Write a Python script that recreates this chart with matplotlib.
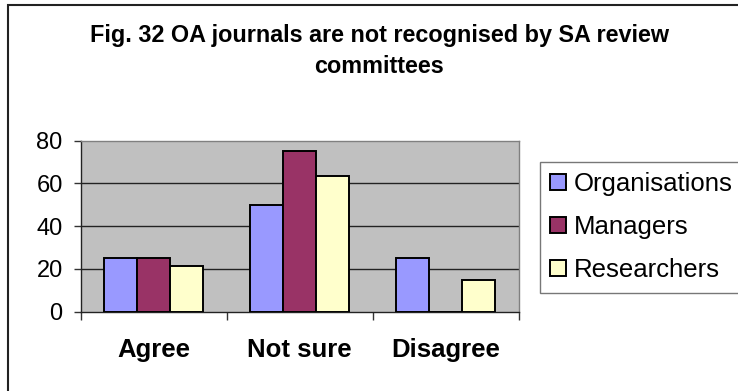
import matplotlib.pyplot as plt
import numpy as np
from matplotlib.patches import Rectangle

plt.rcParams['font.family'] = ['Liberation Sans', 'DejaVu Sans']

categories = ["Agree", "Not sure", "Disagree"]
series_names = ["Organisations", "Managers", "Researchers"]
organisations = [25, 50, 25]
managers = [25, 75, 0]
researchers = [21.3, 63.6, 14.8]
colors = ["#9999FF", "#993366", "#FFFFCC"]
yticks = [0, 20, 40, 60, 80]

fig = plt.figure(figsize=(7.38, 3.91), dpi=100)
ax = fig.add_axes([0.1094, 0.2028, 0.5935, 0.4376])
ax.set_facecolor("#C0C0C0")

# outer chart frame, open past the right and bottom edges
fig.patches.append(Rectangle((8 / 738, -0.1), 1.2, (391 - 5) / 391 + 0.1,
                             transform=fig.transFigure, fill=False,
                             edgecolor="#222222", lw=1.5, zorder=0))

x = np.arange(len(categories))
w = 0.225
for i, (vals, name) in enumerate(zip([organisations, managers, researchers], series_names)):
    ax.bar(x + (i - 1) * w, vals, w, color=colors[i], edgecolor="black",
           lw=1.4, label=name, zorder=3)

ax.set_xlim(-0.5, 2.5)
ax.set_ylim(0, 80)
ax.set_yticks(yticks)
ax.set_yticklabels([str(v) for v in yticks], fontsize=17)
for v in yticks[1:-1]:
    ax.axhline(v, color="#222222", lw=1, zorder=1)

# boundary ticks below the axis, labels centred between them
ax.set_xticks([-0.5, 0.5, 1.5, 2.5])
ax.set_xticklabels([])
ax.set_xticks(x, minor=True)
ax.set_xticklabels(categories, minor=True, fontsize=18.5, fontweight="bold")
ax.tick_params(axis="x", which="major", direction="out", length=6, width=1, color="#333333")
ax.tick_params(axis="x", which="minor", length=0, pad=19)
ax.tick_params(axis="y", direction="out", length=5, width=1, color="#333333", pad=8)

for s in ["top", "right"]:
    ax.spines[s].set_color("#808080")
    ax.spines[s].set_linewidth(1)
for s in ["left", "bottom"]:
    ax.spines[s].set_color("#222222")
    ax.spines[s].set_linewidth(1)

fig.text(0.514, 0.91, "Fig. 32 OA journals are not recognised by SA review",
         ha="center", va="center", fontsize=16.8, fontweight="bold")
fig.text(0.514, 0.831, "committees", ha="center", va="center",
         fontsize=16.8, fontweight="bold")

leg = ax.legend(loc="upper left", bbox_to_anchor=(0.7317, 0.5857),
                bbox_transform=fig.transFigure, borderaxespad=0, fontsize=18.5,
                frameon=True, fancybox=False, handlelength=0.6, handleheight=0.6,
                handletextpad=0.3, labelspacing=0.74, borderpad=0.4)
leg.get_frame().set_edgecolor("#555555")
leg.get_frame().set_linewidth(1)

fig.savefig("out.png", dpi=100)
